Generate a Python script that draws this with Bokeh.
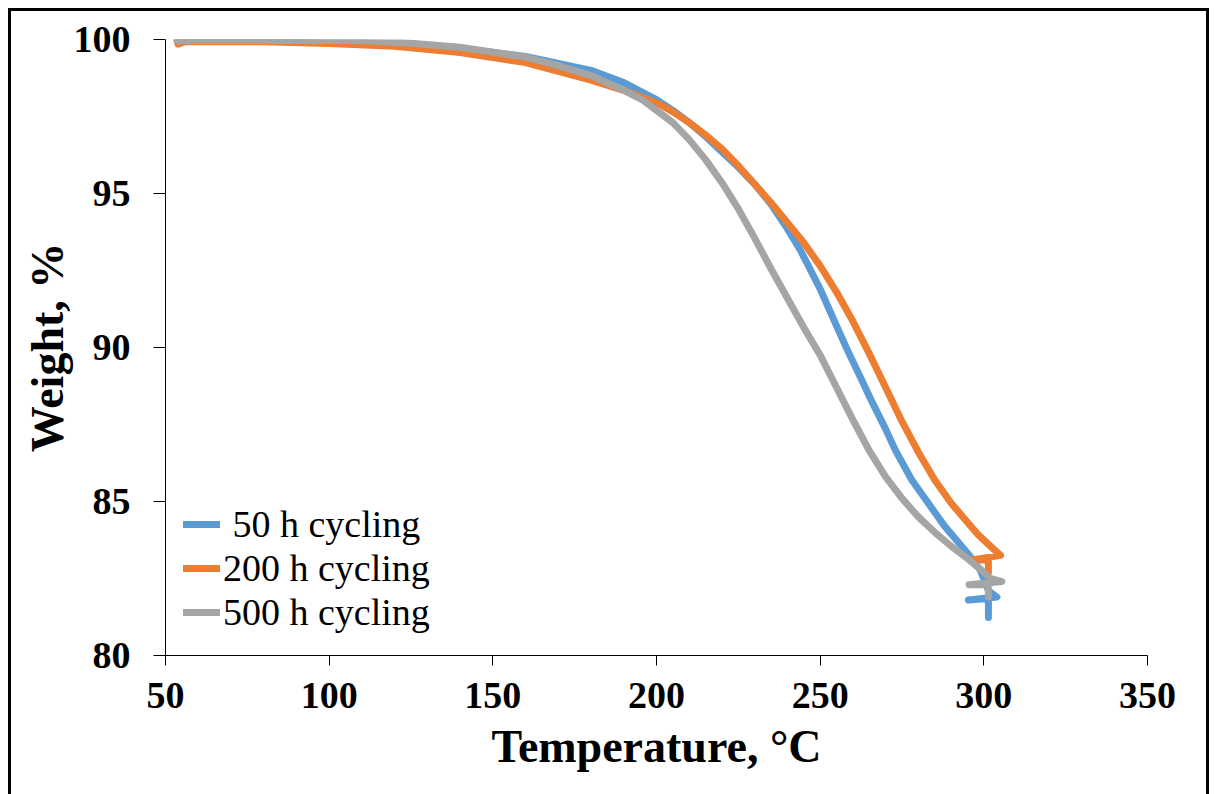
from bokeh.plotting import figure
from bokeh.models import FixedTicker, Range1d, InlineStyleSheet
from bokeh.embed import file_html
from bokeh.resources import INLINE

# ---- data ----
temp_50 = [54, 60, 80, 100, 120, 140, 160, 180, 190, 200, 205, 210, 215, 220, 225, 230, 235,
           240, 244, 250, 255, 258.4, 262, 266, 270, 273, 278, 283, 288, 292, 296, 299,
           301.4, 304, 295.3, 301.4, 301.4]
w_50 = [99.95, 99.97, 99.97, 99.95, 99.85, 99.72, 99.45, 99.0, 98.6, 98.05, 97.7, 97.3, 96.85,
        96.35, 95.85, 95.3, 94.65, 93.85, 93.15, 91.9, 90.7, 89.9, 89.1, 88.2, 87.35, 86.66,
        85.7, 84.95, 84.2, 83.7, 83.2, 82.75, 82.1, 81.9, 81.8, 81.85, 81.23]

temp_200 = [53.5, 53.8, 56, 80, 100, 120, 140, 160, 180, 190, 196, 201, 205, 210, 215, 220,
            225, 230, 235, 240, 245, 250, 255, 260, 265, 270, 275, 280, 285, 290, 294, 298,
            302, 305.1, 296.5, 301.4, 301.4]
w_200 = [99.97, 99.85, 99.93, 99.93, 99.87, 99.78, 99.58, 99.25, 98.68, 98.35, 98.1, 97.9,
         97.65, 97.3, 96.9, 96.45, 95.9, 95.3, 94.7, 94.05, 93.4, 92.65, 91.8, 90.85, 89.8,
         88.7, 87.6, 86.6, 85.7, 84.95, 84.45, 83.95, 83.55, 83.25, 83.1, 83.1, 82.7]

temp_500 = [53.7, 60, 80, 110, 125, 140, 160, 170, 180, 190, 196, 200, 205, 210, 215, 220, 225,
            230, 235, 240, 245, 250, 255, 260, 265, 270, 275, 280, 285, 290, 295, 299, 302,
            305.5, 295.5, 301.4, 301.4]
w_500 = [99.95, 99.97, 99.97, 99.97, 99.88, 99.75, 99.43, 99.15, 98.83, 98.35, 98.02, 97.7,
         97.3, 96.75, 96.1, 95.35, 94.5, 93.55, 92.55, 91.6, 90.65, 89.75, 88.7, 87.65, 86.65,
         85.8, 85.1, 84.5, 84.0, 83.55, 83.15, 82.8, 82.5, 82.4, 82.3, 82.3, 81.9]

series_labels = [" 50 h cycling", "200 h cycling", "500 h cycling"]
series_colors = ["#5B9BD5", "#ED7D31", "#A5A5A5"]
x_ticks = [50, 100, 150, 200, 250, 300, 350]
y_ticks = [80, 85, 90, 95, 100]

FONT = "Liberation Serif"

border_css = InlineStyleSheet(css="""
:host { position: relative; }
:host::after {
  content: '';
  position: absolute;
  left: 8px; top: 8px; width: 1201px; height: 790px;
  box-sizing: border-box;
  border-top: 3px solid black; border-left: 3px solid black; border-right: 3px solid black;
  pointer-events: none; z-index: 10;
}
""")

p = figure(width=1214, height=794, output_backend="svg", toolbar_location=None,
           x_range=Range1d(50, 350), y_range=Range1d(80, 100),
           min_border_left=165, min_border_right=67, min_border_top=39, min_border_bottom=139,
           stylesheets=[border_css])
p.outline_line_color = None
p.xgrid.visible = False
p.ygrid.visible = False
p.background_fill_color = "white"
p.border_fill_color = "white"

for xs, ys, lab, col in zip([temp_50, temp_200, temp_500], [w_50, w_200, w_500],
                            series_labels, series_colors):
    p.line(xs, ys, line_color=col, line_width=7, line_cap="round", line_join="round",
           legend_label=lab)

for ax in (p.xaxis[0], p.yaxis[0]):
    ax.axis_line_color = "black"
    ax.axis_line_width = 1
    ax.major_tick_line_color = "black"
    ax.minor_tick_line_color = None
    ax.major_tick_in = 0
    ax.major_label_text_font = FONT
    ax.major_label_text_font_style = "bold"
    ax.major_label_text_font_size = "38px"
    ax.major_label_text_color = "black"
    ax.axis_label_text_font = FONT
    ax.axis_label_text_font_style = "bold"
    ax.axis_label_text_font_size = "46px"
    ax.axis_label_text_color = "black"

p.xaxis[0].ticker = FixedTicker(ticks=x_ticks)
p.yaxis[0].ticker = FixedTicker(ticks=y_ticks)
p.xaxis[0].major_tick_out = 10
p.yaxis[0].major_tick_out = 12
p.xaxis[0].major_label_standoff = 17
p.yaxis[0].major_label_standoff = 23
p.xaxis[0].axis_label = "Temperature, °C"
p.yaxis[0].axis_label = "Weight, %"
p.xaxis[0].axis_label_standoff = 10
p.yaxis[0].axis_label_standoff = -2

leg = p.legend[0]
leg.location = (18, 21)
leg.padding = 0
leg.margin = 0
leg.spacing = 0
leg.border_line_color = None
leg.background_fill_alpha = 0
leg.glyph_width = 37
leg.glyph_height = 42
leg.label_height = 42
leg.label_standoff = 3
leg.label_text_font = FONT
leg.label_text_font_size = "38px"
leg.label_text_color = "black"

open("out.html", "w").write(file_html(p, INLINE))
